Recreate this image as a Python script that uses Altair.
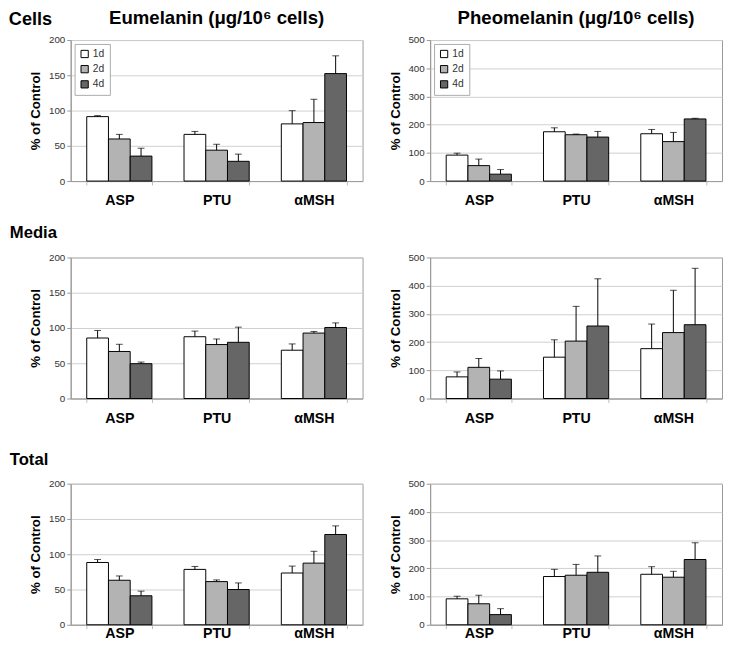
import altair as alt
import pandas as pd

treatments = ["ASP", "PTU", "αMSH"]
days = ["1d", "2d", "4d"]
colors = ["#ffffff", "#b3b3b3", "#666666"]

# values ordered ASP(1d,2d,4d), PTU(1d,2d,4d), αMSH(1d,2d,4d)
cells_eu = [91.4, 59.7, 35.4, 66.2, 43.8, 28.0, 81.1, 83.0, 152.4]
cells_eu_err = [1.4, 6.5, 11.2, 4.2, 8.4, 10.2, 18.7, 33.0, 25.2]
cells_ph = [92.0, 54.8, 24.5, 174.8, 164.3, 156.0, 167.8, 139.9, 220.3]
cells_ph_err = [7.0, 23.2, 16.3, 14.0, 2.4, 20.0, 15.2, 32.6, 2.3]
media_eu = [85.8, 66.7, 49.4, 87.6, 76.5, 79.7, 68.5, 92.8, 100.7]
media_eu_err = [10.7, 10.2, 2.3, 8.0, 7.9, 21.5, 8.9, 2.3, 6.5]
media_ph = [76.7, 110.5, 68.6, 146.5, 203.5, 257.0, 176.7, 233.7, 261.6]
media_ph_err = [17.5, 31.4, 29.1, 61.6, 123.2, 167.4, 87.3, 150.0, 200.0]
total_eu = [88.3, 63.1, 41.1, 78.5, 61.2, 50.0, 73.4, 87.4, 128.0]
total_eu_err = [4.2, 6.1, 6.6, 4.2, 2.4, 9.3, 9.8, 16.8, 12.2]
total_ph = [91.9, 74.4, 36.0, 171.0, 175.6, 186.0, 179.0, 168.6, 231.4]
total_ph_err = [9.3, 30.3, 21.0, 25.5, 38.4, 58.0, 26.8, 20.9, 59.3]

eu_ticks = [0, 50, 100, 150, 200]
ph_ticks = [0, 100, 200, 300, 400, 500]

FONT = "Liberation Sans"
W, H = 298, 144


def panel(vals, errs, ticks, title=None, legend=False, label_pad=9):
    df = pd.DataFrame({
        "treatment": [t for t in treatments for _ in days],
        "day": days * 3,
        "value": vals,
        "err": errs,
    })
    df["upper"] = df["value"] + df["err"]
    yscale = alt.Scale(domain=[ticks[0], ticks[-1]], nice=False)
    yaxis = alt.Axis(values=ticks, title="% of Control", titleFontSize=13.5,
                     titleFontWeight="bold", titleColor="black", titlePadding=6,
                     labelFontSize=10, labelColor="#333", tickSize=4,
                     tickColor="#999", domainColor="#999", gridColor="#cfcfcf")
    base = alt.Chart(df).encode(
        x=alt.X("treatment:N", sort=treatments,
                scale=alt.Scale(paddingInner=0.33, paddingOuter=0.165),
                axis=alt.Axis(title=None, labelAngle=0, labelFontSize=14.5,
                              labelFontWeight="bold", labelColor="black",
                              labelPadding=label_pad, tickBand="extent", tickSize=4,
                              tickColor="#bbb", domainColor="#999")),
        xOffset=alt.XOffset("day:N", sort=days,
                            scale=alt.Scale(paddingInner=0, paddingOuter=0)),
    )
    if legend:
        leg = alt.Legend(title=None, orient="top-left", offset=4, padding=5,
                         strokeColor="#aaa", fillColor="white",
                         symbolType="square", symbolSize=55,
                         symbolStrokeColor="black", symbolStrokeWidth=1,
                         labelFontSize=10.5, labelColor="#333",
                         rowPadding=3.5, labelOffset=3)
    else:
        leg = None
    bars = base.mark_bar(stroke="black", strokeWidth=1).encode(
        y=alt.Y("value:Q", scale=yscale, axis=yaxis),
        color=alt.Color("day:N", sort=days,
                        scale=alt.Scale(domain=days, range=colors), legend=leg),
    )
    rules = base.mark_rule(color="black", strokeWidth=1).encode(
        y=alt.Y("value:Q", scale=yscale, axis=yaxis), y2="upper:Q")
    caps = base.mark_tick(color="black", thickness=1, size=7,
                          orient="horizontal").encode(
        y=alt.Y("upper:Q", scale=yscale, axis=yaxis))
    ch = alt.layer(bars, rules, caps).properties(width=W, height=H)
    if title:
        ch = ch.properties(title=alt.TitleParams(
            title, anchor="middle", frame="group", fontSize=19,
            fontWeight="bold", color="black", offset=7))
    return ch


def row(label, left, right, dy=0, dx=-19, size=17, offset=10):
    r = alt.hconcat(left, right, spacing=24).resolve_scale(
        color="independent", y="independent", x="independent"
    ).resolve_legend(color="independent")
    params = dict(anchor="start", frame="bounds", dx=dx, fontSize=size,
                  fontWeight="bold", color="black", offset=offset)
    if dy:
        params["dy"] = dy
    return r.properties(title=alt.TitleParams(label, **params))


r1 = row("Cells",
         panel(cells_eu, cells_eu_err, eu_ticks, "Eumelanin (μg/10⁶ cells)", True),
         panel(cells_ph, cells_ph_err, ph_ticks, "Pheomelanin (μg/10⁶ cells)", True),
         dy=30, dx=-20, size=18.5)
r2 = row("Media",
         panel(media_eu, media_eu_err, eu_ticks),
         panel(media_ph, media_ph_err, ph_ticks))
r3 = row("Total",
         panel(total_eu, total_eu_err, eu_ticks, label_pad=-2),
         panel(total_ph, total_ph_err, ph_ticks, label_pad=-2))

top_rows = alt.vconcat(r1, r2, spacing=17).resolve_scale(
    color="independent", y="independent", x="independent"
).resolve_legend(color="independent")

chart = alt.vconcat(top_rows, r3, spacing=26).resolve_scale(
    color="independent", y="independent", x="independent"
).resolve_legend(color="independent").properties(
    padding={"top": -6, "left": 0, "right": 0, "bottom": 0}
).configure(font=FONT).configure_view(stroke="#999")

chart.save("out.html", embed_options={"renderer": "svg", "actions": False})
